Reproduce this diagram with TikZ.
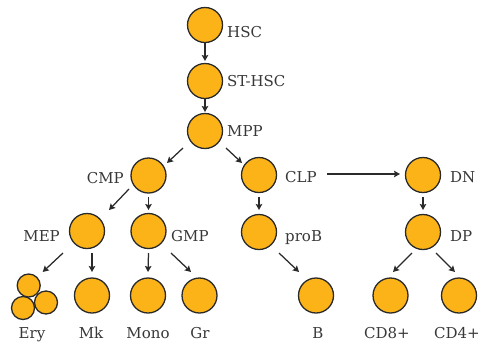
\documentclass[tikz,border=0pt]{standalone}
\usepackage{fontspec}
\setmainfont{DejaVu Serif}
\usetikzlibrary{arrows.meta,calc}
\definecolor{cellfill}{HTML}{FBB318}
\definecolor{ink}{HTML}{2A2A2A}
\definecolor{txt}{HTML}{383838}
\begin{document}
\begin{tikzpicture}[x=1pt,y=-1pt,
  cell/.style={circle,draw=ink,fill=cellfill,line width=1.3pt,minimum size=35pt,inner sep=0pt},
  small/.style={circle,draw=ink,fill=cellfill,line width=1.3pt,minimum size=23pt,inner sep=0pt},
  lbl/.style={text=txt,font=\fontsize{15}{18}\selectfont,inner sep=0pt},
  arr/.style={draw=ink,line width=1.25pt,-{Stealth[length=6pt,width=6.5pt,inset=1pt]}}]
\useasboundingbox (0,0) rectangle (481,341);

% cells
\node[cell] (hsc)   at (205,25)    {};
\node[cell] (sthsc) at (205,81)    {};
\node[cell] (mpp)   at (205,131)   {};
\node[cell] (cmp)   at (148.5,175.5) {};
\node[cell] (clp)   at (259,175)   {};
\node[cell] (dn)    at (423,175)   {};
\node[cell] (mep)   at (87,231)    {};
\node[cell] (gmp)   at (148.5,231) {};
\node[cell] (prob)  at (259,232)   {};
\node[cell] (dp)    at (423,232)   {};
\node[cell] (mk)    at (92,295.5)  {};
\node[cell] (mono)  at (148,295.5) {};
\node[cell] (gr)    at (199.5,295.5) {};
\node[cell] (b)     at (316,295.5) {};
\node[cell] (cd8)   at (390.5,295.5) {};
\node[cell] (cd4)   at (459,295.5) {};
% erythrocyte cluster
\node[small] (ery1) at (28.7,285.5) {};
\node[small] (ery2) at (23,308)     {};
\node[small] (ery3) at (46,302.5)   {};

% labels
\node[lbl,anchor=base west] (lhsc)   at (227,37)  {HSC};
\node[lbl,anchor=base west] (lsthsc) at (227,86)  {ST-HSC};
\node[lbl,anchor=base west] (lmpp)   at (227,136) {MPP};
\node[lbl,anchor=base east] (lcmp)   at (124,183) {CMP};
\node[lbl,anchor=base west] (lclp)   at (285,182) {CLP};
\node[lbl,anchor=base west] (ldn)    at (450,182) {DN};
\node[lbl,anchor=base east] (lmep)   at (60,241)  {MEP};
\node[lbl,anchor=base west] (lgmp)   at (171,241) {GMP};
\node[lbl,anchor=base west] (lprob)  at (285,241) {proB};
\node[lbl,anchor=base west] (ldp)    at (450,241) {DP};
\node[lbl,anchor=base] (lery)  at (32,338)  {Ery};
\node[lbl,anchor=base] (lmk)   at (91,338)  {Mk};
\node[lbl,anchor=base] (lmono) at (148,338) {Mono};
\node[lbl,anchor=base] (lgr)   at (200,338) {Gr};
\node[lbl,anchor=base] (lb)    at (318,338) {B};
\node[lbl,anchor=base] (lcd8)  at (387,338) {CD8+};
\node[lbl,anchor=base east] (lcd4) at (480,338) {CD4+};

% lineage arrows
\draw[arr] ($(hsc)+(0,18)$)    -- ($(sthsc)+(0,-20)$);
\draw[arr] ($(sthsc)+(0,18)$)  -- ($(mpp)+(0,-19)$);
\draw[arr] ($(mpp)+(-22,17)$)  -- ($(cmp)+(18.5,-12.5)$);
\draw[arr] ($(mpp)+(21,17)$)   -- ($(clp)+(-17,-12)$);
\draw[arr] ($(cmp)+(-19.5,13.5)$) -- ($(mep)+(22,-21)$);
\draw[arr] ($(cmp)+(0,21.5)$)  -- ($(gmp)+(0,-21)$);
\draw[arr] ($(clp)+(68,-1)$)   -- ($(dn)+(-23,-1)$);
\draw[arr] ($(clp)+(0,22)$)    -- ($(prob)+(0,-22)$);
\draw[arr] ($(dn)+(0,22)$)     -- ($(dp)+(0,-22)$);
\draw[arr] ($(mep)+(-24,22)$)  -- ($(ery1)+(14,-13.5)$);
\draw[arr] ($(mep)+(5,22)$)    -- ($(mk)+(0,-23.5)$);
\draw[arr] ($(gmp)+(0,22)$)    -- ($(mono)+(0,-23.5)$);
\draw[arr] ($(gmp)+(22.5,22)$) -- ($(gr)+(-8.5,-23.5)$);
\draw[arr] ($(prob)+(20,21)$)  -- ($(b)+(-17,-23.5)$);
\draw[arr] ($(dp)+(-11,21)$)   -- ($(cd8)+(2.5,-23.5)$);
\draw[arr] ($(dp)+(13,21)$)    -- ($(cd4)+(-4,-23.5)$);
\end{tikzpicture}
\end{document}
